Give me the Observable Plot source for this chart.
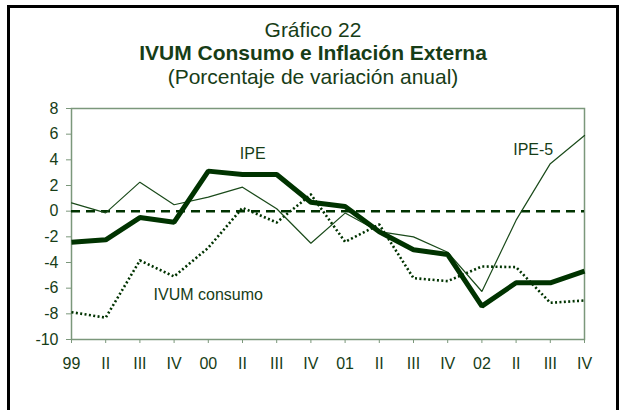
<!DOCTYPE html>
<html>
<head>
<meta charset="utf-8">
<script src="https://cdn.jsdelivr.net/npm/d3@7"></script>
<script src="https://cdn.jsdelivr.net/npm/@observablehq/plot@0.6"></script>
<style>
  html, body { margin: 0; padding: 0; background: #fff; }
  #wrap { position: relative; width: 621px; height: 410px; overflow: hidden; font-family: "Liberation Sans", Arial, sans-serif; color: #173d17; }
  #border { position: absolute; left: 7px; top: 5px; width: 612px; height: 430px; border: 3px solid #000; box-sizing: border-box; }
  .t { position: absolute; left: 0; width: 626px; text-align: center; white-space: nowrap; line-height: 1; }
  #chart { position: absolute; left: 0; top: 0; }
</style>
</head>
<body>
<div id="wrap">
  <div id="border"></div>
  <div id="chart"></div>
  <div class="t" style="top:19px;font-size:21px;">Gráfico 22</div>
  <div class="t" style="top:42px;font-size:21px;font-weight:bold;">IVUM Consumo e Inflación Externa</div>
  <div class="t" style="top:66px;font-size:21px;">(Porcentaje de variación anual)</div>
</div>
<script>
const labels = ["99","II","III","IV","00","II","III","IV","01","II","III","IV","02","II","III","IV"];
const ipe  = [-2.42,-2.23,-0.5,-0.86,3.12,2.86,2.86,0.7,0.37,-1.6,-3.0,-3.38,-7.4,-5.58,-5.58,-4.68];
const ipe5 = [0.65,-0.13,2.26,0.5,1.09,1.87,0.19,-2.5,-0.15,-1.6,-2.0,-3.2,-6.26,-0.7,3.7,5.9];
const ivum = [-7.87,-8.3,-3.84,-5.09,-2.85,0.26,-0.88,1.3,-2.39,-1.04,-5.22,-5.45,-4.31,-4.36,-7.14,-6.96];
const yTicks = [-10,-8,-6,-4,-2,0,2,4,6,8];
const notes = [
  {i: 5.3, v: 4.5, text: "IPE"},
  {i: 13.5, v: 4.8, text: "IPE-5"},
  {i: 4.0, v: -6.5, text: "IVUM consumo"}
];

const idx = labels.map((_, i) => i);
const rows = s => s.map((v, i) => ({i, v}));
const dark = "#003300";
const axisCol = "#7b977b";

const chart = Plot.plot({
  width: 621,
  height: 410,
  marginLeft: 71,
  marginRight: 37,
  marginTop: 108,
  marginBottom: 71,
  x: {type: "linear", domain: [0, 15]},
  y: {domain: [-10, 8]},
  style: {fontFamily: "'Liberation Sans', Arial, sans-serif", fontSize: "16px", color: "#173d17", background: "transparent", overflow: "visible"},
  marks: [
    Plot.frame({stroke: axisCol, strokeWidth: 1.5}),
    Plot.axisY({ticks: yTicks, tickFormat: d => String(d), tickSize: 5, tickPadding: 8, label: null, stroke: axisCol, fontSize: 16}),
    Plot.axisX({ticks: idx, tickFormat: i => labels[i], tickSize: 4, tickPadding: 14, label: null, stroke: axisCol, fontSize: 16}),
    Plot.ruleY([0], {stroke: dark, strokeWidth: 2.5, strokeDasharray: "9,6"}),
    Plot.line(rows(ivum), {x: "i", y: "v", stroke: dark, strokeWidth: 2.6, strokeDasharray: "2,2.4", strokeLinecap: "butt"}),
    Plot.line(rows(ipe5), {x: "i", y: "v", stroke: "#1a4a1a", strokeWidth: 1.2, strokeLinejoin: "miter"}),
    Plot.line(rows(ipe), {x: "i", y: "v", stroke: dark, strokeWidth: 5, strokeLinejoin: "miter", strokeLinecap: "butt"}),
    Plot.text(notes, {x: "i", y: "v", text: "text", fontSize: 16, fill: "#173d17"})
  ]
});
document.getElementById("chart").appendChild(chart);
</script>
</body>
</html>
